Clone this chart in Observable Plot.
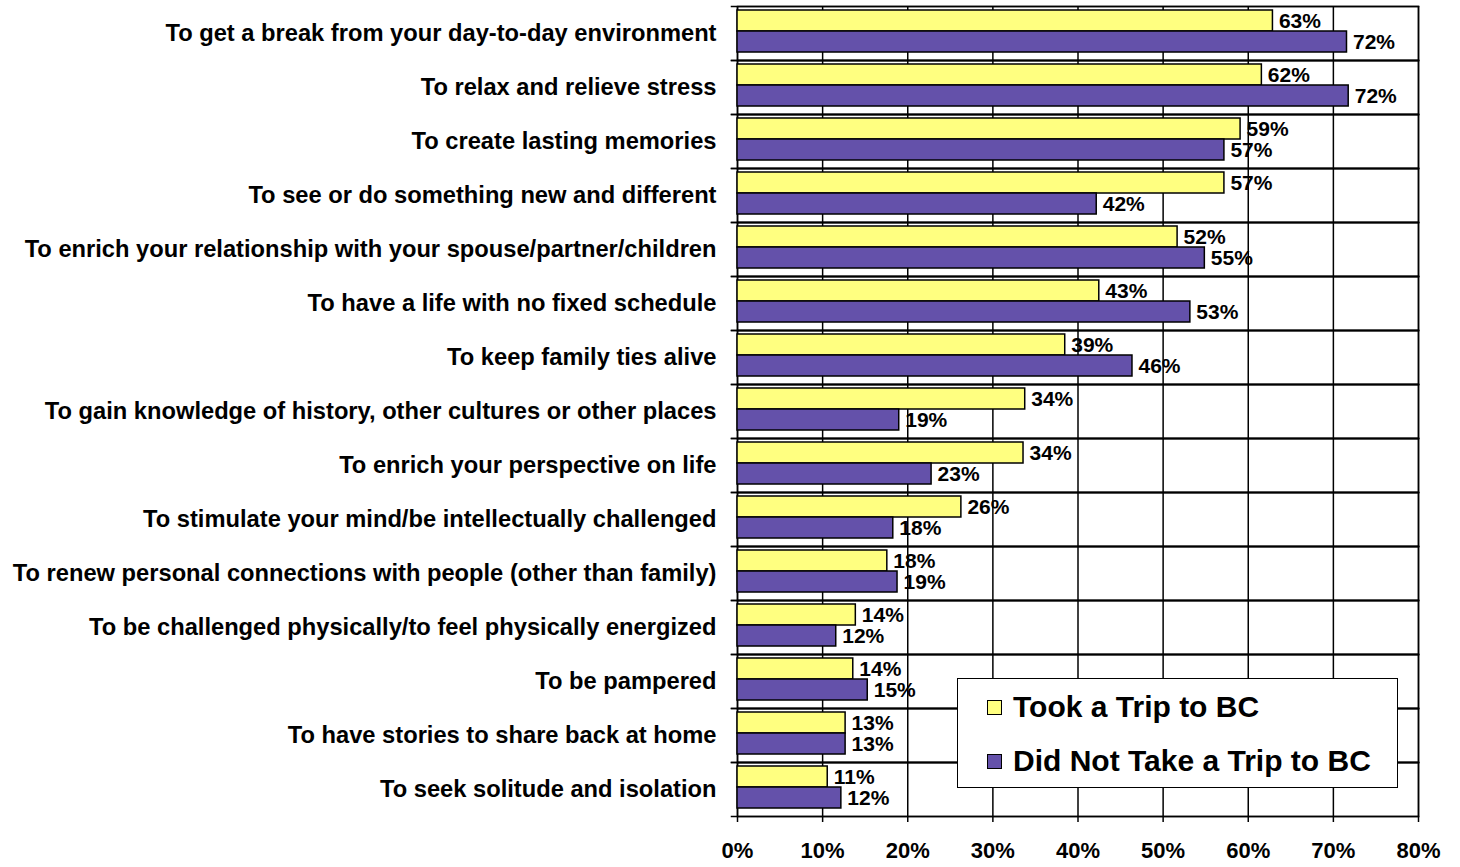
<!DOCTYPE html>
<html>
<head>
<meta charset="utf-8">
<script src="https://cdn.jsdelivr.net/npm/d3@7"></script>
<script src="https://cdn.jsdelivr.net/npm/@observablehq/plot@0.6"></script>
<style>
  html, body { margin: 0; padding: 0; background: #fff; }
  #wrap { position: relative; width: 1460px; height: 867px; font-family: "Liberation Sans", Arial, sans-serif; }
  #legend { position: absolute; left: 957px; top: 678px; width: 441px; height: 110px; border: 1.5px solid #000; background: #fff; box-sizing: border-box; }
  .item { position: absolute; left: 29px; height: 36px; display: flex; align-items: center; font-weight: bold; font-size: 30px; white-space: nowrap; }
  .sw { width: 13px; height: 13px; border: 1.5px solid #000; margin-right: 11px; }
</style>
</head>
<body>
<div id="wrap"></div>
<script>
const categories = [
  "To get a break from your day-to-day environment",
  "To relax and relieve stress",
  "To create lasting memories",
  "To see or do something new and different",
  "To enrich your relationship with your spouse/partner/children",
  "To have a life with no fixed schedule",
  "To keep family ties alive",
  "To gain knowledge of history, other cultures or other places",
  "To enrich your perspective on life",
  "To stimulate your mind/be intellectually challenged",
  "To renew personal connections with people (other than family)",
  "To be challenged physically/to feel physically energized",
  "To be pampered",
  "To have stories to share back at home",
  "To seek solitude and isolation"
];
const tookTrip =    [62.9, 61.6, 59.1, 57.2, 51.7, 42.5, 38.5, 33.8, 33.6, 26.3, 17.6, 13.9, 13.6, 12.7, 10.6];
const didNotTake =  [71.6, 71.8, 57.2, 42.2, 54.9, 53.2, 46.4, 19.0, 22.8, 18.3, 18.8, 11.6, 15.3, 12.7, 12.2];
const seriesNames = ["Took a Trip to BC", "Did Not Take a Trip to BC"];
const seriesColors = ["#FFFF80", "#6451AA"];
const xTicks = [0, 10, 20, 30, 40, 50, 60, 70, 80];

const data = categories.flatMap((c, i) => [
  {category: c, series: seriesNames[0], value: tookTrip[i]},
  {category: c, series: seriesNames[1], value: didNotTake[i]}
]);

const chart = Plot.plot({
  width: 1460,
  height: 867,
  marginLeft: 737,
  marginRight: 42,
  marginTop: 6,
  marginBottom: 51,
  style: {fontFamily: "'Liberation Sans', Arial, sans-serif", fontWeight: "bold", color: "#000", background: "#fff"},
  x: {domain: [0, 80]},
  fy: {domain: categories, padding: 0, label: null},
  y: {domain: seriesNames, paddingInner: 0, paddingOuter: 0.256, align: 0.36, axis: null},
  color: {domain: seriesNames, range: seriesColors},
  marks: [
    Plot.gridX(xTicks, {stroke: "#000", strokeOpacity: 1, strokeWidth: 1.5}),
    Plot.frame({stroke: "#000", strokeWidth: 1.5}),
    Plot.frame({anchor: "top", stroke: "#000", strokeWidth: 1.5, insetLeft: -6}),
    Plot.frame({anchor: "bottom", stroke: "#000", strokeWidth: 1.5, insetLeft: -6}),
    Plot.barX(data, {fy: "category", y: "series", x: "value", fill: "series", stroke: "#000", strokeWidth: 1.5}),
    Plot.text(data, {fy: "category", y: "series", x: "value", text: d => Math.round(d.value) + "%", textAnchor: "start", dx: 6, fontSize: 21, fontWeight: "bold", fill: "#000"}),
    Plot.axisFy({anchor: "left", tickSize: 0, tickPadding: 21, fontSize: 23.7, fontWeight: "bold", label: null}),
    Plot.axisX(xTicks, {anchor: "bottom", tickSize: 6, tickPadding: 20, tickFormat: d => d + "%", fontSize: 22, fontWeight: "bold", label: null, strokeWidth: 1.5})
  ]
});

const wrap = document.getElementById("wrap");
wrap.appendChild(chart);

const legend = document.createElement("div");
legend.id = "legend";
seriesNames.forEach((name, i) => {
  const item = document.createElement("div");
  item.className = "item";
  item.style.top = (i === 0 ? 10 : 64) + "px";
  const sw = document.createElement("div");
  sw.className = "sw";
  sw.style.background = seriesColors[i];
  const label = document.createElement("span");
  label.textContent = name;
  item.appendChild(sw);
  item.appendChild(label);
  legend.appendChild(item);
});
wrap.appendChild(legend);
</script>
</body>
</html>
